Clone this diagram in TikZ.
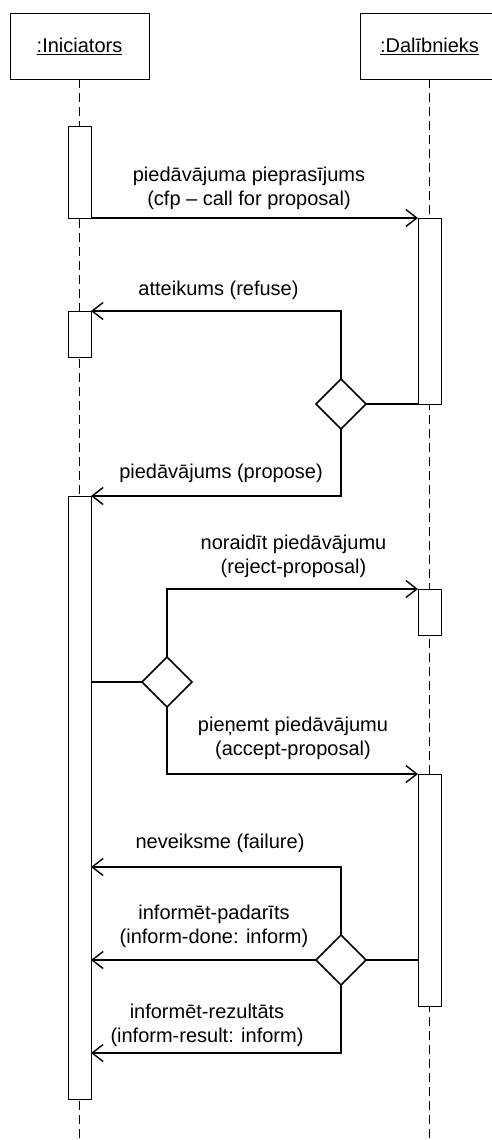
\documentclass[tikz,border=0pt]{standalone}
\usepackage{fontspec}
\setmainfont{Liberation Sans}
\usetikzlibrary{arrows.meta,shapes.geometric}
\begin{document}
\begin{tikzpicture}[x=1pt,y=-1pt,
  obj/.style={draw,line width=1pt,minimum width=139pt,minimum height=65pt,inner sep=0pt,outer sep=0pt,font=\fontsize{20}{24}\selectfont},
  act/.style={draw,fill=white,line width=1pt,minimum width=23pt,inner sep=0pt,outer sep=0pt},
  gate/.style={draw,fill=white,diamond,line width=1.5pt,minimum width=50pt,minimum height=50pt,inner sep=0pt,outer sep=0pt},
  life/.style={line width=0.9pt,dash pattern=on 9pt off 5pt},
  msg/.style={line width=1.6pt,-{Straight Barb[length=11pt,width=17pt,line width=1.4pt]}},
  link/.style={line width=1.6pt},
  lbl/.style={align=center,font=\fontsize{20}{24}\selectfont,inner sep=0pt}
]
\useasboundingbox (0,0) rectangle (491,1140);
% objects
\node[obj] (ini) at (79.5,46.5) {\underline{:Iniciators}};
\node[obj] (dal) at (429.5,46.5) {\underline{:Dalībnieks}};
\coordinate (iniEnd) at (79.5,1140);
\coordinate (dalEnd) at (429.5,1140);
% lifelines
\draw[life] (ini.south) -- (iniEnd);
\draw[life] (dal.south) -- (dalEnd);
% activations
\node[act,minimum height=92pt] (a1) at (79.5,172) {};
\node[act,minimum height=46pt] (a2) at (79.5,334) {};
\node[act,minimum height=603pt] (a3) at (79.5,797.5) {};
\node[act,minimum height=186pt] (b1) at (429.5,311) {};
\node[act,minimum height=46pt] (b2) at (429.5,612) {};
\node[act,minimum height=232pt] (b3) at (429.5,890) {};
% decision diamonds
\node[gate] (d1) at (341,404) {};
\node[gate] (d2) at (167,682) {};
\node[gate] (d3) at (341,960) {};
% helper coordinates on the initiator activation
\coordinate (fail) at (91,867);
\coordinate (res) at (91,1053);
% messages
\draw[msg] (a1.south east) -- (b1.north west);
\draw[link] (b1.south west) -- (d1.east);
\draw[msg] (d1.north) |- (a2.north east);
\draw[msg] (d1.south) |- (a3.north east);
\draw[link] (a3.east |- d2.west) -- (d2.west);
\draw[msg] (d2.north) |- (b2.north west);
\draw[msg] (d2.south) |- (b3.north west);
\draw[link] (b3.west |- d3.east) -- (d3.east);
\draw[msg] (d3.north) |- (fail);
\draw[msg] (d3.west) -- (a3.east |- d3.west);
\draw[msg] (d3.south) |- (res);
% labels
\node[lbl] (l1) at (249,188) {piedāvājuma pieprasījums\\(cfp – call for proposal)};
\node[lbl] (l2) at (218.5,290) {atteikums (refuse)};
\node[lbl] (l3) at (221,473) {piedāvājums (propose)};
\node[lbl] (l4) at (293.5,556) {noraidīt piedāvājumu\\(reject-proposal)};
\node[lbl] (l5) at (293,738) {pieņemt piedāvājumu\\(accept-proposal)};
\node[lbl] (l6) at (220,843) {neveiksme (failure)};
\node[lbl] (l7) at (214,926) {informēt-padarīts\\(inform-done: inform)};
\node[lbl] (l8) at (207,1025) {informēt-rezultāts\\(inform-result: inform)};
\end{tikzpicture}
\end{document}
